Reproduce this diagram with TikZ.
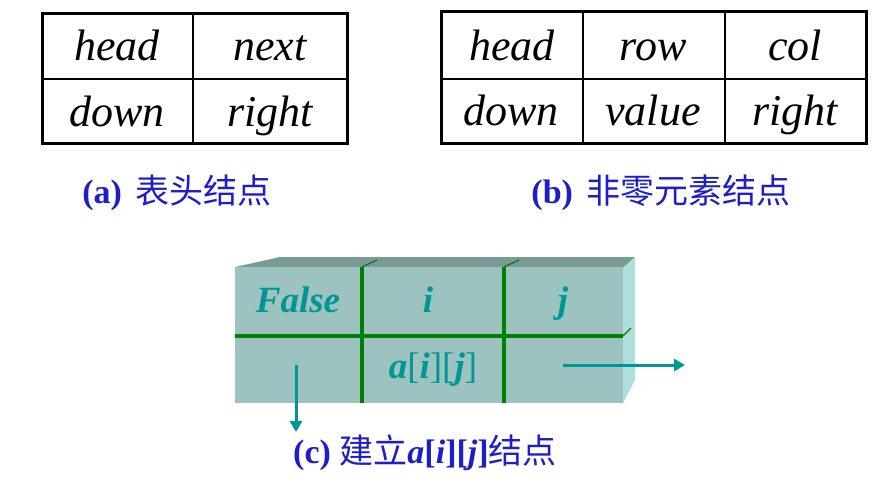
\documentclass[tikz,border=0pt]{standalone}
\usepackage{fontspec}
\setmainfont{Liberation Serif}
\newfontfamily\cjk{Noto Sans CJK SC}
\usetikzlibrary{arrows.meta}
\definecolor{lblue}{RGB}{30,30,200}
\definecolor{tealtxt}{RGB}{0,150,150}
\definecolor{frontc}{RGB}{156,195,192}
\definecolor{topc}{RGB}{122,154,150}
\definecolor{sidec}{RGB}{176,222,220}
\definecolor{gline}{RGB}{0,128,0}
\tikzset{
  cell/.style={anchor=base, inner sep=0pt, font=\fontsize{44}{44}\selectfont\itshape},
  lbl/.style={anchor=base, inner sep=0pt, text=lblue, font=\fontsize{34}{34}\selectfont\bfseries},
  btxt/.style={anchor=base, inner sep=0pt, text=tealtxt, font=\fontsize{37}{37}\selectfont\bfseries\itshape},
  gl/.style={draw=gline, line width=3.5pt},
  arr/.style={draw=tealtxt, line width=3pt, -{Triangle[length=11pt,width=12pt]}},
}
\begin{document}
\begin{tikzpicture}[x=1pt,y=-1pt]
\useasboundingbox (0,0) rectangle (877,489);
% table (a)
\draw[line width=1.3pt] (193,14) -- (193,144) (42,79) -- (347,79);
\draw[line width=3pt] (42,14) rectangle (347,144);
\node[cell] (ah) at (117,61) {head};
\node[cell] (an) at (270,61) {next};
\node[cell] (ad) at (117,127) {down};
\node[cell] (ar) at (270,127) {right};
% table (b)
\draw[line width=1.3pt] (583,12) -- (583,144) (725,12) -- (725,144) (441,79) -- (866,79);
\draw[line width=3pt] (441,12) rectangle (866,144);
\node[cell] (bh) at (512,61) {head};
\node[cell] (br) at (653,61) {row};
\node[cell] (bc) at (795,61) {col};
\node[cell] (bd) at (511,126) {down};
\node[cell] (bv) at (653,126) {value};
\node[cell] (bri) at (795,126) {right};
% labels
\node[lbl] (la) at (177,203) {(a)\hspace{0.4em}{\cjk\mdseries 表头结点}};
\node[lbl] (lb) at (661,203) {(b)\hspace{0.4em}{\cjk\mdseries 非零元素结点}};
% 3D block
\fill[topc] (235,267) -- (280,257) -- (635,257) -- (623,268) -- cycle;
\fill[sidec] (623,268) -- (635,257) -- (635,380) -- (623,403) -- cycle;
\fill[frontc] (235,267) rectangle (623,403);
\draw[gl] (362,267) -- (362,403) (504,267) -- (504,403) (235,336) -- (623,336);
\draw[gline, line width=1.2pt] (362,267) -- (377,260) (504,267) -- (519,260) (623,336) -- (631,328);
\node[btxt] (tf) at (298,312) {False};
\node[btxt] (ti) at (428,312) {i};
\node[btxt] (tj) at (563,312) {j};
\node[btxt, font=\fontsize{37}{37}\selectfont] (ta) at (433,378) {\textbf{\textit{a}}[\textbf{\textit{i}}][\textbf{\textit{j}}]};
\coordinate (d0) at (296,365);
\coordinate (d1) at (296,432);
\coordinate (r0) at (563,365);
\coordinate (r1) at (685,365);
\draw[arr] (d0) -- (d1);
\draw[arr] (r0) -- (r1);
\node[lbl] (lc) at (425,463) {(c)\hspace{0.25em}{\cjk\mdseries 建立}\textit{a}[\textit{i}][\textit{j}]{\cjk\mdseries 结点}};
\end{tikzpicture}
\end{document}
